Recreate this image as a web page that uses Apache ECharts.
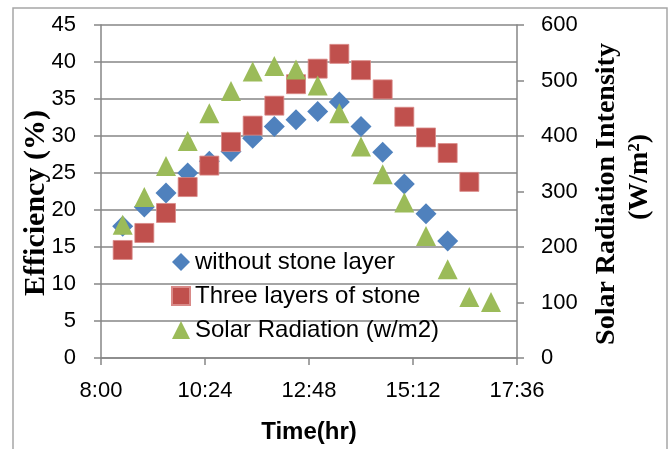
<!DOCTYPE html>
<html>
<head>
<meta charset="utf-8">
<script src="https://cdn.jsdelivr.net/npm/echarts@6/dist/echarts.min.js"></script>
<style>html,body{margin:0;padding:0;background:#fff}#c{width:670px;height:449px}</style>
</head>
<body>
<div id="c"></div>
<script>
// Data
var times = ['8:30','9:00','9:30','10:00','10:30','11:00','11:30','12:00','12:30','13:00','13:30','14:00','14:30','15:00','15:30','16:00','16:30','17:00'];
var withoutStone = [17.8, 20.4, 22.3, 25.0, 26.6, 27.9, 29.7, 31.3, 32.2, 33.3, 34.6, 31.3, 27.8, 23.5, 19.5, 15.8];
var threeLayers = [14.6, 16.9, 19.6, 23.1, 26.0, 29.2, 31.4, 34.1, 37.0, 39.1, 41.1, 38.9, 36.3, 32.6, 29.8, 27.7, 23.8];
var solarRadiation = [240, 290, 346, 391, 441, 481, 516, 526, 520, 491, 441, 381, 331, 280, 220, 160, 110, 101];
var xTicks = ['8:00','10:24','12:48','15:12','17:36'];
var leftTicks = [0,5,10,15,20,25,30,35,40,45];
var rightTicks = [0,100,200,300,400,500,600];

function toMin(t){var p=t.split(':');return (+p[0])*60+(+p[1]);}
function fmt(v){var h=Math.floor(v/60),m=Math.round(v%60);return h+':'+(m<10?'0':'')+m;}
function pairs(vals){return vals.map(function(v,i){return [toMin(times[i]),v];});}

var grid = {left:101, right:153, top:25, bottom:91};
var axisGray = '#868686';
var tickFont = {fontFamily:'Liberation Sans', fontSize:22, color:'#000'};

var chart = echarts.init(document.getElementById('c'), null, {renderer:'canvas'});
chart.setOption({
  animation:false,
  backgroundColor:'#fff',
  grid: grid,
  xAxis: {
    type:'value', min:toMin(xTicks[0]), max:toMin(xTicks[xTicks.length-1]), interval:144,
    axisLine:{show:true, lineStyle:{color:axisGray, width:1.5}},
    axisTick:{show:true, inside:false, length:7, lineStyle:{color:axisGray, width:1.5}},
    splitLine:{show:false},
    axisLabel:Object.assign({margin:22, formatter:function(v){return fmt(v);}}, tickFont)
  },
  yAxis: [{
    type:'value', min:leftTicks[0], max:leftTicks[leftTicks.length-1], interval:5,
    axisLine:{show:true, lineStyle:{color:axisGray, width:1.5}},
    axisTick:{show:true, inside:false, length:7, lineStyle:{color:axisGray, width:1.5}},
    splitLine:{show:true, lineStyle:{color:axisGray, width:1.5}},
    axisLabel:Object.assign({margin:25}, tickFont)
  },{
    type:'value', min:rightTicks[0], max:rightTicks[rightTicks.length-1], interval:100,
    position:'right',
    axisLine:{show:true, lineStyle:{color:axisGray, width:1.5}},
    axisTick:{show:true, inside:false, length:7, lineStyle:{color:axisGray, width:1.5}},
    splitLine:{show:false},
    axisLabel:Object.assign({margin:24}, tickFont)
  }],
  legend: {
    orient:'vertical', left:166, top:245, itemWidth:18, itemHeight:18, itemGap:10,
    textStyle:{fontFamily:'Liberation Sans', fontSize:24, color:'#000'},
    data:['without stone layer','Three layers of stone','Solar Radiation (w/m2)']
  },
  series: [{
    name:'without stone layer', type:'scatter', yAxisIndex:0,
    symbol:'diamond', symbolSize:[21,21],
    itemStyle:{color:'#4F81BD', opacity:1},
    data:pairs(withoutStone)
  },{
    name:'Three layers of stone', type:'scatter', yAxisIndex:0,
    symbol:'rect', symbolSize:[19,19],
    itemStyle:{color:'#C0504D', borderColor:'#D98A88', borderWidth:0.8, opacity:1},
    data:pairs(threeLayers)
  },{
    name:'Solar Radiation (w/m2)', type:'scatter', yAxisIndex:1,
    symbol:'triangle', symbolSize:[20,20],
    itemStyle:{color:'#9BBB59', opacity:1},
    data:pairs(solarRadiation)
  }],
  graphic: [
    {type:'rect', shape:{x:13, y:8, width:654, height:460}, style:{fill:'none', stroke:'#a6a6a6', lineWidth:1.5}, silent:true, z:-1},
    {type:'text', x:36, y:203, rotation:Math.PI/2,
      style:{text:'Efficiency (%)', font:'bold 30px "Liberation Serif"', fill:'#000', textAlign:'center', textVerticalAlign:'middle'}},
    {type:'text', x:607, y:194, rotation:Math.PI/2,
      style:{text:'Solar Radiation Intensity', font:'bold 28px "Liberation Serif"', fill:'#000', textAlign:'center', textVerticalAlign:'middle'}},
    {type:'text', x:640, y:177, rotation:Math.PI/2,
      style:{text:'(W/m\u00B2)', font:'bold 28px "Liberation Serif"', fill:'#000', textAlign:'center', textVerticalAlign:'middle'}},
    {type:'text', x:309, y:432,
      style:{text:'Time(hr)', font:'bold 24px "Liberation Sans"', fill:'#000', textAlign:'center', textVerticalAlign:'middle'}}
  ]
});
</script>
</body>
</html>
